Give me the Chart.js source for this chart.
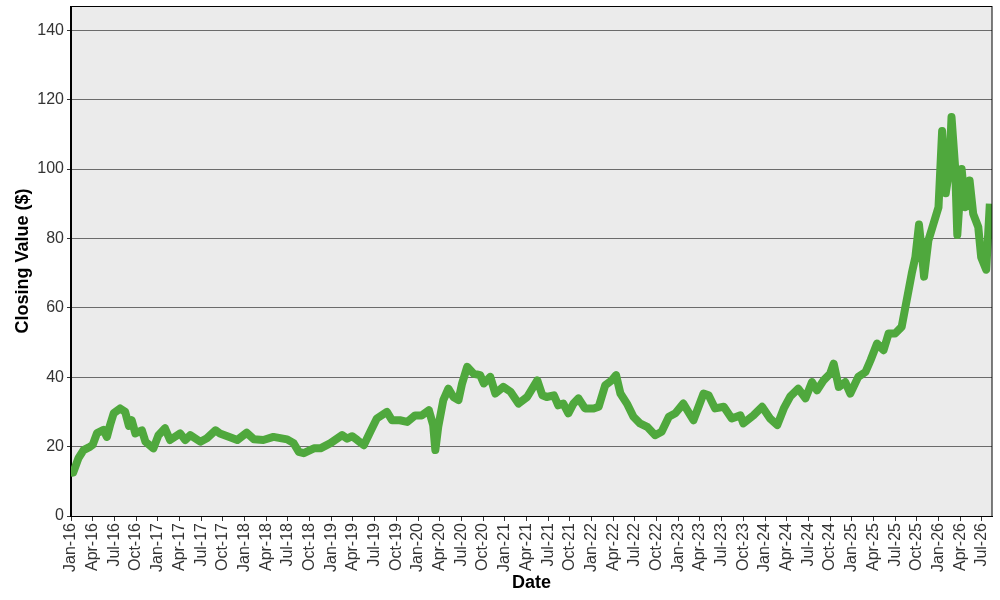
<!DOCTYPE html>
<html>
<head>
<meta charset="utf-8">
<script src="https://cdn.jsdelivr.net/npm/chart.js@4.4.1/dist/chart.umd.min.js"></script>
<style>
  html, body { margin: 0; padding: 0; background: #fff; }
</style>
</head>
<body>
<canvas id="myChart" width="1000" height="600"></canvas>
<script>
// closing values, at irregular dates
const dates = [
  '2016-01-01','2016-01-10','2016-02-02','2016-02-23','2016-03-21','2016-04-01','2016-04-19','2016-05-16','2016-05-30','2016-06-13',
  '2016-06-28','2016-07-25','2016-08-16','2016-09-01','2016-09-13','2016-09-28','2016-10-25','2016-11-10','2016-12-13','2017-01-04',
  '2017-02-01','2017-02-22','2017-04-04','2017-04-25','2017-05-16','2017-06-28','2017-07-25','2017-09-01','2017-09-19','2017-11-01',
  '2017-12-01','2018-01-10','2018-02-10','2018-03-19','2018-05-01','2018-06-28','2018-07-25','2018-08-16','2018-09-07','2018-10-19',
  '2018-11-16','2018-12-28','2019-01-25','2019-02-16','2019-03-07','2019-03-28','2019-04-19','2019-05-16','2019-06-13','2019-07-10',
  '2019-08-22','2019-09-13','2019-10-16','2019-11-16','2019-12-19','2020-01-16','2020-02-16','2020-03-04','2020-03-13','2020-03-25',
  '2020-04-16','2020-05-07','2020-05-28','2020-06-19','2020-07-04','2020-07-25','2020-08-22','2020-09-19','2020-10-04','2020-11-01',
  '2020-11-22','2020-12-25','2021-01-25','2021-02-28','2021-04-04','2021-05-16','2021-06-07','2021-06-25','2021-07-25','2021-08-13',
  '2021-09-04','2021-09-25','2021-10-16','2021-11-07','2021-12-04','2022-01-10','2022-02-01','2022-02-28','2022-03-25','2022-04-13',
  '2022-05-01','2022-05-28','2022-06-25','2022-07-22','2022-08-22','2022-09-25','2022-10-22','2022-11-22','2022-12-19','2023-01-22',
  '2023-03-04','2023-04-16','2023-05-07','2023-06-04','2023-07-10','2023-08-13','2023-09-19','2023-10-01','2023-11-13','2023-12-19',
  '2024-01-22','2024-02-22','2024-03-19','2024-04-16','2024-05-19','2024-06-19','2024-07-16','2024-08-07','2024-09-04','2024-10-01',
  '2024-10-16','2024-11-07','2024-12-04','2024-12-25','2025-01-28','2025-02-28','2025-03-19','2025-04-16','2025-05-13','2025-06-04',
  '2025-07-01','2025-07-28','2025-08-19','2025-09-10','2025-09-25','2025-10-10','2025-10-19','2025-11-01','2025-11-19','2025-12-10',
  '2026-01-01','2026-01-16','2026-02-01','2026-02-16','2026-02-25','2026-03-10','2026-03-19','2026-04-07','2026-04-22','2026-05-10',
  '2026-05-25','2026-06-16','2026-06-28','2026-07-19','2026-08-04'
];
const closes = [
  14, 12.5, 16.7, 19, 20, 20.5, 23.9, 24.8, 22.8, 26.2,
  29.6, 31, 30, 26, 27.6, 23.8, 24.7, 21.4, 19.5, 23.3,
  25.3, 21.9, 23.8, 21.9, 23.3, 21.4, 22.4, 24.7, 23.8, 22.7,
  21.9, 24, 22.1, 21.9, 22.8, 22.1, 21, 18.5, 18.1, 19.5,
  19.5, 21, 22.3, 23.3, 22.3, 23, 21.9, 20.4, 24.3, 28.1,
  30, 27.6, 27.6, 27.1, 29, 29, 30.5, 26.2, 19, 25.7,
  33.4, 36.7, 34.3, 33.4, 38.2, 43, 41, 40.6, 38.2, 40.1,
  35.3, 37.2, 35.8, 32.4, 34.3, 39.1, 34.8, 34.3, 34.8, 31.9,
  32.4, 29.6, 32.4, 33.9, 31, 31, 31.5, 37.7, 39.1, 40.6,
  35.3, 32.4, 28.6, 26.7, 25.7, 23.3, 24.3, 28.6, 29.6, 32.4,
  27.6, 35.3, 34.8, 31, 31.5, 28.1, 29, 26.7, 29, 31.5,
  28.1, 26.2, 31, 34.5, 36.7, 33.9, 38.6, 36.2, 39.1, 41,
  43.9, 37.2, 38.6, 35.3, 40.1, 41.5, 44.9, 49.7, 47.8, 52.6,
  52.6, 54.5, 62.2, 69.9, 74.6, 84, 78, 69, 79.4, 84.2,
  89, 111, 93, 100, 115, 100.5, 81, 100, 89, 96.7,
  87.1, 83.3, 74.6, 71, 90
];
const xTickLabels = [
  'Jan-16','Apr-16','Jul-16','Oct-16','Jan-17','Apr-17','Jul-17','Oct-17','Jan-18','Apr-18','Jul-18','Oct-18',
  'Jan-19','Apr-19','Jul-19','Oct-19','Jan-20','Apr-20','Jul-20','Oct-20','Jan-21','Apr-21','Jul-21','Oct-21',
  'Jan-22','Apr-22','Jul-22','Oct-22','Jan-23','Apr-23','Jul-23','Oct-23','Jan-24','Apr-24','Jul-24','Oct-24',
  'Jan-25','Apr-25','Jul-25','Oct-25','Jan-26','Apr-26','Jul-26'
];
const yTickValues = [0, 20, 40, 60, 80, 100, 120, 140];

// months since Jan 2016
function monthIndex(d) {
  const [y, m, day] = d.split('-').map(Number);
  return (y - 2016) * 12 + (m - 1) + (day - 1) / 30;
}

const points = dates.map((d, i) => ({ x: monthIndex(d), y: closes[i] }));

const plotBox = {
  id: 'plotBox',
  beforeDraw(chart) {
    const { ctx, chartArea: a } = chart;
    ctx.save();
    ctx.fillStyle = '#ebebeb';
    ctx.fillRect(a.left, a.top, a.right - a.left, a.bottom - a.top);
    ctx.restore();
  },
  afterDraw(chart) {
    const { ctx, chartArea: a } = chart;
    ctx.save();
    ctx.strokeStyle = '#000';
    ctx.lineWidth = 1;
    ctx.strokeRect(a.left - 0.5, a.top + 0.5, a.right - a.left + 0.5, a.bottom - a.top);
    ctx.restore();
  }
};

const tickFont = { family: 'Liberation Sans, Arial, sans-serif', size: 16 };
const titleFont = { family: 'Liberation Sans, Arial, sans-serif', size: 18, weight: 'bold' };

new Chart(document.getElementById('myChart'), {
  type: 'line',
  data: {
    datasets: [{
      data: points,
      borderColor: '#4fa83d',
      borderWidth: 8,
      borderJoinStyle: 'round',
      borderCapStyle: 'butt',
      pointRadius: 0,
      tension: 0,
      fill: false
    }]
  },
  options: {
    responsive: false,
    animation: false,
    layout: { padding: { top: 6, right: 8, left: 0, bottom: 0 } },
    plugins: { legend: { display: false }, tooltip: { enabled: false } },
    scales: {
      x: {
        type: 'linear',
        min: 0,
        max: 127.4,
        afterBuildTicks: s => { s.ticks = xTickLabels.map((l, i) => ({ value: i * 3 })); },
        afterFit: s => { s.height = 84; s.paddingLeft = 0; s.paddingRight = 0; },
        grid: { drawOnChartArea: false, drawTicks: true, tickLength: 5, tickColor: '#333' },
        border: { display: true, color: '#000', width: 1 },
        ticks: {
          autoSkip: false,
          minRotation: 90,
          maxRotation: 90,
          padding: 2,
          color: '#333',
          font: tickFont,
          callback: v => xTickLabels[Math.round(v / 3)]
        },
        title: { display: true, text: 'Date', color: '#000', font: titleFont, padding: { top: 0, bottom: 6 } }
      },
      y: {
        min: 0,
        max: 147,
        afterBuildTicks: s => { s.ticks = yTickValues.map(v => ({ value: v })); },
        afterFit: s => { s.width = 71; s.paddingTop = 0; s.paddingBottom = 0; },
        grid: { color: '#6b6b6b', lineWidth: 1, tickLength: 4, tickColor: '#333' },
        border: { display: true, color: '#000', width: 1 },
        ticks: { color: '#333', font: tickFont, padding: 3 },
        title: { display: true, text: 'Closing Value ($)', color: '#000', font: titleFont, padding: { top: 12, bottom: 0 } }
      }
    }
  },
  plugins: [plotBox]
});
</script>
</body>
</html>
